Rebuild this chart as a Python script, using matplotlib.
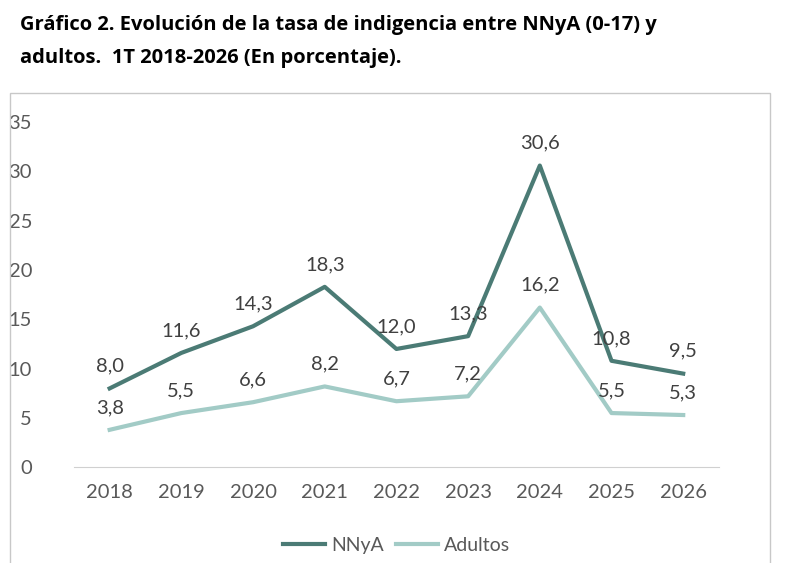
import matplotlib.pyplot as plt
from matplotlib.patches import Rectangle

plt.rcParams['font.family'] = ['Lato', 'DejaVu Sans']

years = [2018, 2019, 2020, 2021, 2022, 2023, 2024, 2025, 2026]
nnya = [8.0, 11.6, 14.3, 18.3, 12.0, 13.3, 30.6, 10.8, 9.5]
adultos = [3.8, 5.5, 6.6, 8.2, 6.7, 7.2, 16.2, 5.5, 5.3]

c_n = "#4b7b75"
c_a = "#a2cbc6"

fig = plt.figure(figsize=(7.85, 5.63), dpi=100)
fig.patches.append(Rectangle((0.013, -0.01), 0.968, 0.845, transform=fig.transFigure,
                             fill=False, edgecolor="#c8c8c8", lw=1))
fig.text(0.025, 0.955, "Gráfico 2. Evolución de la tasa de indigencia entre NNyA (0-17) y",
         fontsize=14.5, fontweight="bold", va="center", family=["Open Sans", "DejaVu Sans"])
fig.text(0.025, 0.897, "adultos.  1T 2018-2026 (En porcentaje).",
         fontsize=14.5, fontweight="bold", va="center", family=["Open Sans", "DejaVu Sans"])

ax = fig.add_axes([0.094, 0.17, 0.822, 0.613])
ax.plot(years, nnya, color=c_n, lw=3, label="NNyA")
ax.plot(years, adultos, color=c_a, lw=3, label="Adultos")
for x, v in zip(years, nnya):
    ax.annotate(f"{v:.1f}".replace(".", ","), (x, v), xytext=(0, 10), textcoords="offset points",
                ha="center", va="bottom", fontsize=14.5, color="#404040")
for x, v in zip(years, adultos):
    ax.annotate(f"{v:.1f}".replace(".", ","), (x, v), xytext=(0, 10), textcoords="offset points",
                ha="center", va="bottom", fontsize=14.5, color="#404040")

ax.set_xlim(2017.5, 2026.5)
ax.set_ylim(0, 35)
ax.set_yticks(range(0, 36, 5))
ax.set_xticks(years)
ax.tick_params(length=0, labelsize=14.5, colors="#595959", pad=12)
ax.tick_params(axis="y", pad=30)
for s in ["top", "right", "left"]:
    ax.spines[s].set_visible(False)
ax.spines["bottom"].set_color("#d0d0d0")
ax.legend(loc="upper center", bbox_to_anchor=(0.5, -0.15), ncol=2, frameon=False,
          fontsize=14, handlelength=2.2, columnspacing=0.6, handletextpad=0.3,
          labelcolor="#595959")

fig.savefig("out.png")
